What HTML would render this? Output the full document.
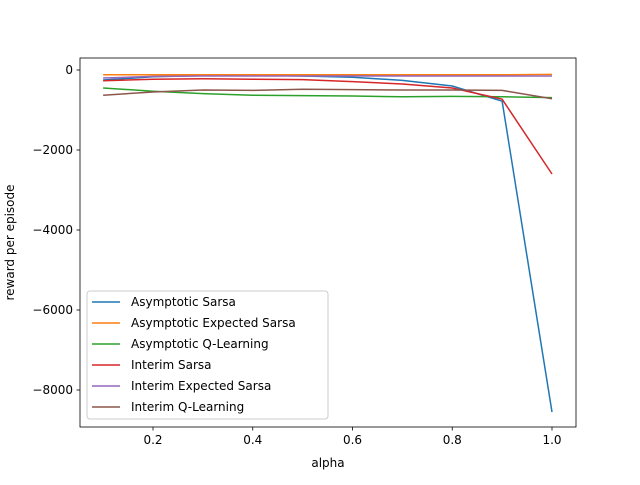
<!DOCTYPE html>
<html><head><meta charset="utf-8"><style>
body{margin:0;background:#fff;font-family:"Liberation Sans","DejaVu Sans",sans-serif;}
svg text{font-family:"DejaVu Sans","Liberation Sans",sans-serif;font-size:12px;fill:#000;}
</style></head><body>
<svg id="chart" width="640" height="480"></svg>
<script>
const alphas=[0.1,0.2,0.3,0.4,0.5,0.6,0.7,0.8,0.9,1.0];
const asymSarsa=[-250,-170,-140,-130,-150,-180,-260,-400,-780,-8550];
const asymExpSarsa=[-120,-120,-120,-120,-120,-120,-120,-120,-120,-110];
const asymQ=[-450,-530,-590,-630,-640,-650,-670,-660,-670,-690];
const intSarsa=[-270,-230,-220,-230,-240,-290,-350,-450,-730,-2600];
const intExpSarsa=[-200,-160,-150,-150,-150,-150,-150,-150,-150,-150];
const intQ=[-630,-550,-500,-510,-480,-490,-500,-500,-510,-720];
const seriesNames=["Asymptotic Sarsa","Asymptotic Expected Sarsa","Asymptotic Q-Learning","Interim Sarsa","Interim Expected Sarsa","Interim Q-Learning"];
const xTicks=[0.2,0.4,0.6,0.8,1.0];
const xTickLabels=["0.2","0.4","0.6","0.8","1.0"];
const yTicks=[0,-2000,-4000,-6000,-8000];
const yTickLabels=["0","−2000","−4000","−6000","−8000"];
const colors=["#1f77b4","#ff7f0e","#2ca02c","#d62728","#9467bd","#8c564b"];
const allSeries=[asymSarsa,asymExpSarsa,asymQ,intSarsa,intExpSarsa,intQ];
const L=80,R=576,T=58,B=427;
const xs=v=>153+(v-0.2)*(552-153)/0.8;
const ys=v=>70-v*0.04;
const svg=document.getElementById('chart');
const NS='http://www.w3.org/2000/svg';
function mk(t,a){const e=document.createElementNS(NS,t);for(const k in a)e.setAttribute(k,a[k]);svg.appendChild(e);return e;}
allSeries.forEach((s,i)=>{
  const p=mk('polyline',{points:s.map((v,j)=>xs(alphas[j])+','+ys(v)).join(' '),fill:'none',stroke:colors[i],'stroke-width':1.5});
  
  
});
const frame=mk('rect',{x:L,y:T,width:R-L,height:B-T,fill:'none',stroke:'#000','stroke-width':0.8});


xTicks.forEach((v,i)=>{
  const x=xs(v);
  mk('line',{x1:x,x2:x,y1:B,y2:B+3.5,stroke:'#000','stroke-width':0.8});
  const t=mk('text',{x:x,y:B+17,'text-anchor':'middle'});t.textContent=xTickLabels[i];
  
  
});
yTicks.forEach((v,i)=>{
  const y=ys(v);
  mk('line',{x1:L-3.5,x2:L,y1:y,y2:y,stroke:'#000','stroke-width':0.8});
  const t=mk('text',{x:L-7,y:y+4,'text-anchor':'end'});t.textContent=yTickLabels[i];
  
  
});
const xt=mk('text',{x:(L+R)/2,y:467,'text-anchor':'middle'});xt.textContent='alpha';


const yt=mk('text',{x:14,y:(T+B)/2,'text-anchor':'middle',transform:'rotate(-90 14 '+((T+B)/2)+')'});yt.textContent='reward per episode';


const lg=mk('rect',{x:87,y:291,width:241,height:128,rx:3,fill:'#fff','fill-opacity':0.8,stroke:'#ccc'});


seriesNames.forEach((n,i)=>{
  const y=302+i*21;
  mk('line',{x1:92,x2:120,y1:y,y2:y,stroke:colors[i],'stroke-width':1.5});
  const t=mk('text',{x:131,y:y+4});t.textContent=n;
  
  
});
</script>
</body></html>
